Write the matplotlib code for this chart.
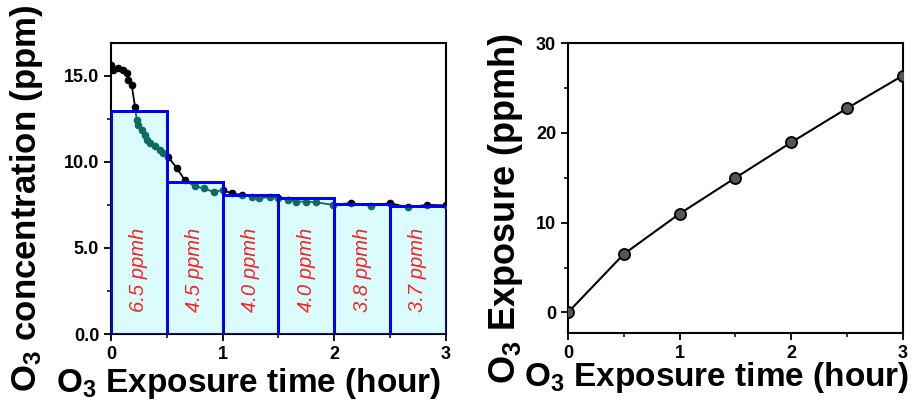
import matplotlib
matplotlib.use("Agg")
import matplotlib.pyplot as plt
from matplotlib.ticker import MultipleLocator, FormatStrFormatter

plt.rcParams['font.family'] = ['Liberation Sans', 'DejaVu Sans']
plt.rcParams['font.weight'] = 'bold'
plt.rcParams['mathtext.fontset'] = 'custom'
plt.rcParams['mathtext.rm'] = 'Liberation Sans:bold'
plt.rcParams['mathtext.bf'] = 'Liberation Sans:bold'
plt.rcParams['mathtext.default'] = 'rm'

# ---- Left panel data: O3 concentration over time ----
conc_time = [0, 0.02, 0.065, 0.11, 0.14, 0.155, 0.185, 0.215,
             0.23, 0.245, 0.275, 0.305, 0.32, 0.35, 0.39, 0.44, 0.47,
             0.51, 0.59, 0.66, 0.75, 0.83, 0.92, 1.0, 1.08, 1.17,
             1.26, 1.33, 1.42, 1.5, 1.59, 1.66, 1.75, 1.84, 1.99,
             2.15, 2.33, 2.5, 2.66, 2.83, 3.0]
conc_ppm = [15.64, 15.35, 15.45, 15.35, 15.15, 14.77, 14.48, 13.2,
            12.45, 12.15, 11.86, 11.57, 11.28, 11.09, 10.9, 10.7, 10.5,
            10.3, 9.63, 8.95, 8.57, 8.47, 8.24, 8.37, 8.17, 8.08,
            7.98, 7.89, 7.95, 7.89, 7.79, 7.69, 7.69, 7.64, 7.5,
            7.6, 7.44, 7.6, 7.35, 7.5, 7.47]

# interval averages (bars)
bar_start = [0.0, 0.5, 1.0, 1.5, 2.0, 2.5]
bar_height = [12.95, 8.85, 8.1, 7.9, 7.55, 7.45]
bar_labels = ['6.5 ppmh', '4.5 ppmh', '4.0 ppmh', '4.0 ppmh', '3.8 ppmh', '3.7 ppmh']

# ---- Right panel data: cumulative exposure ----
exp_time = [0, 0.5, 1.0, 1.5, 2.0, 2.5, 3.0]
exp_ppmh = [0, 6.5, 11.0, 15.0, 18.95, 22.75, 26.4]

fig = plt.figure(figsize=(9.15, 4.17), dpi=100)
ax1 = fig.add_axes([0.1213, 0.199, 0.366, 0.698])
ax2 = fig.add_axes([0.6208, 0.2014, 0.366, 0.695])

teal = '#0d6b62'
# Left
ax1.plot(conc_time, conc_ppm, color='black', lw=1.3, marker='o', ms=4.5, zorder=2)
bars = ax1.bar(bar_start, bar_height, width=0.5, align='edge',
               facecolor='#dbfcfc', edgecolor='#0000ff', linewidth=2, zorder=3)
for b in bars:
    ln, = ax1.plot(conc_time, conc_ppm, color=teal, lw=1.3, marker='o', ms=4.5, zorder=3.5)
    ln.set_clip_path(b)
for b in bars:
    b2 = plt.Rectangle(b.get_xy(), b.get_width(), b.get_height(), fill=False,
                       edgecolor='#0000ff', linewidth=2, zorder=4)
    ax1.add_patch(b2)
for x0, lab in zip(bar_start, bar_labels):
    ax1.text(x0 + 0.25, 3.75, lab, rotation=90, ha='center', va='center',
             color='#ff2020', fontsize=14.5, fontstyle='italic', fontweight='normal',
             zorder=5)

ax1.set_xlim(0, 3)
ax1.set_ylim(0, 16.9)
ax1.xaxis.set_major_locator(MultipleLocator(1))
ax1.xaxis.set_minor_locator(MultipleLocator(0.5))
ax1.yaxis.set_major_locator(MultipleLocator(5))
ax1.yaxis.set_minor_locator(MultipleLocator(2.5))
ax1.yaxis.set_major_formatter(FormatStrFormatter('%.1f'))
ax1.set_xlabel(r'$\mathregular{O_3}$ Exposure time (hour)', fontsize=24, fontweight='bold')
ax1.set_ylabel(r'$\mathregular{O_3}$ concentration (ppm)', fontsize=25, fontweight='bold')
ax1.xaxis.set_label_coords(0.41, -0.11)
ax1.yaxis.set_label_coords(-0.197, 0.467)

# Right
ax2.plot(exp_time, exp_ppmh, color='black', lw=1.5, marker='o', ms=8,
         markerfacecolor='#555555', markeredgecolor='black', markeredgewidth=1.3, zorder=3)
ax2.set_xlim(0, 3)
ax2.set_ylim(-2.3, 30)
ax2.xaxis.set_major_locator(MultipleLocator(1))
ax2.xaxis.set_minor_locator(MultipleLocator(0.5))
ax2.yaxis.set_major_locator(MultipleLocator(10))
ax2.yaxis.set_minor_locator(MultipleLocator(5))
ax2.set_xlabel(r'$\mathregular{O_3}$ Exposure time (hour)', fontsize=24, fontweight='bold')
ax2.set_ylabel(r'$\mathregular{O_3}$ Exposure (ppmh)', fontsize=26, fontweight='bold')
ax2.xaxis.set_label_coords(0.445, -0.093)
ax2.yaxis.set_label_coords(-0.128, 0.431)

for ax in (ax1, ax2):
    for s in ax.spines.values():
        s.set_linewidth(1.5)
    ax.tick_params(which='major', direction='out', length=5, width=1.3, labelsize=13)
    ax.tick_params(which='minor', direction='out', length=3, width=1.1)
    for lbl in ax.get_xticklabels() + ax.get_yticklabels():
        lbl.set_fontweight('bold')

fig.savefig('out.png', dpi=100)
